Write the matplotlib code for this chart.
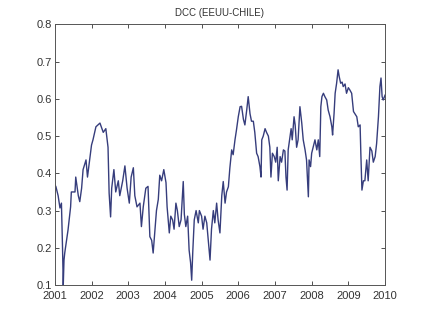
import matplotlib
matplotlib.use("Agg")
import matplotlib.pyplot as plt

title = "DCC (EEUU-CHILE)"
years = [
    2001.00, 2001.03, 2001.09, 2001.14, 2001.18, 2001.21, 2001.23, 2001.25, 2001.27, 2001.36,
    2001.43, 2001.45, 2001.55, 2001.57, 2001.64, 2001.68, 2001.73, 2001.77, 2001.85, 2001.89,
    2001.94, 2002.00, 2002.04, 2002.12, 2002.23, 2002.32, 2002.39, 2002.45, 2002.48, 2002.52,
    2002.55, 2002.61, 2002.66, 2002.73, 2002.77, 2002.85, 2002.91, 2002.97, 2003.03, 2003.08,
    2003.14, 2003.18, 2003.24, 2003.32, 2003.36, 2003.41, 2003.48, 2003.54, 2003.59, 2003.64,
    2003.68, 2003.73, 2003.77, 2003.82, 2003.86, 2003.91, 2003.97, 2004.03, 2004.06, 2004.12,
    2004.16, 2004.21, 2004.25, 2004.30, 2004.34, 2004.39, 2004.44, 2004.50, 2004.53, 2004.57,
    2004.62, 2004.66, 2004.70, 2004.73, 2004.76, 2004.80, 2004.85, 2004.91, 2004.94, 2005.00,
    2005.04, 2005.09, 2005.14, 2005.19, 2005.23, 2005.27, 2005.32, 2005.36, 2005.41, 2005.45,
    2005.50, 2005.55, 2005.59, 2005.64, 2005.68, 2005.73, 2005.77, 2005.82, 2005.86, 2005.91,
    2005.95, 2006.00, 2006.05, 2006.09, 2006.14, 2006.18, 2006.23, 2006.27, 2006.32, 2006.36,
    2006.41, 2006.45, 2006.50, 2006.54, 2006.59, 2006.62, 2006.64, 2006.68, 2006.73, 2006.77,
    2006.82, 2006.86, 2006.89, 2006.93, 2006.98, 2007.02, 2007.06, 2007.09, 2007.14, 2007.18,
    2007.23, 2007.27, 2007.30, 2007.33, 2007.36, 2007.41, 2007.44, 2007.47, 2007.52, 2007.55,
    2007.59, 2007.63, 2007.68, 2007.73, 2007.77, 2007.82, 2007.86, 2007.91, 2007.93, 2007.97,
    2008.00, 2008.04, 2008.09, 2008.14, 2008.18, 2008.22, 2008.25, 2008.28, 2008.32, 2008.36,
    2008.41, 2008.45, 2008.50, 2008.55, 2008.57, 2008.61, 2008.64, 2008.68, 2008.72, 2008.75,
    2008.79, 2008.83, 2008.86, 2008.91, 2008.95, 2009.00, 2009.04, 2009.09, 2009.14, 2009.18,
    2009.23, 2009.27, 2009.32, 2009.34, 2009.37, 2009.41, 2009.45, 2009.50, 2009.54, 2009.59,
    2009.64, 2009.68, 2009.73, 2009.77, 2009.82, 2009.86, 2009.89, 2009.92, 2009.95, 2010.00,
]
dcc = [
    0.37, 0.364, 0.34, 0.307, 0.32, 0.20, 0.10, 0.167, 0.186, 0.248,
    0.31, 0.35, 0.35, 0.39, 0.34, 0.324, 0.36, 0.41, 0.436, 0.39,
    0.43, 0.476, 0.49, 0.525, 0.535, 0.51, 0.52, 0.47, 0.347, 0.283,
    0.36, 0.41, 0.35, 0.38, 0.34, 0.38, 0.42, 0.36, 0.32, 0.39,
    0.415, 0.34, 0.31, 0.32, 0.257, 0.31, 0.36, 0.365, 0.23, 0.22,
    0.186, 0.25, 0.30, 0.33, 0.395, 0.38, 0.41, 0.375, 0.31, 0.24,
    0.285, 0.275, 0.25, 0.32, 0.30, 0.257, 0.275, 0.378, 0.29, 0.257,
    0.285, 0.194, 0.16, 0.113, 0.19, 0.275, 0.30, 0.267, 0.30, 0.285,
    0.25, 0.285, 0.267, 0.213, 0.167, 0.25, 0.30, 0.267, 0.32, 0.275,
    0.24, 0.34, 0.378, 0.32, 0.35, 0.364, 0.414, 0.463, 0.45, 0.49,
    0.516, 0.552, 0.579, 0.58, 0.545, 0.53, 0.57, 0.606, 0.56, 0.54,
    0.54, 0.51, 0.454, 0.445, 0.418, 0.39, 0.49, 0.50, 0.52, 0.51,
    0.50, 0.47, 0.39, 0.454, 0.445, 0.43, 0.47, 0.38, 0.445, 0.43,
    0.463, 0.46, 0.39, 0.355, 0.463, 0.50, 0.52, 0.49, 0.552, 0.53,
    0.47, 0.49, 0.579, 0.535, 0.49, 0.463, 0.436, 0.337, 0.436, 0.418,
    0.454, 0.47, 0.49, 0.463, 0.49, 0.445, 0.579, 0.606, 0.615, 0.606,
    0.597, 0.57, 0.552, 0.525, 0.503, 0.56, 0.615, 0.642, 0.678, 0.66,
    0.642, 0.645, 0.633, 0.64, 0.615, 0.63, 0.624, 0.615, 0.566, 0.56,
    0.552, 0.525, 0.53, 0.454, 0.355, 0.38, 0.38, 0.436, 0.38, 0.47,
    0.46, 0.43, 0.445, 0.48, 0.552, 0.633, 0.656, 0.606, 0.597, 0.61,
]
xticks = list(range(2001, 2011))
yticks = [0.1, 0.2, 0.3, 0.4, 0.5, 0.6, 0.7, 0.8]

plt.rcParams['font.family'] = ['Liberation Sans', 'DejaVu Sans']
fig = plt.figure(figsize=(4.25, 3.21), dpi=100)
ax = fig.add_axes([0.129, 0.112, 0.777, 0.812])
ax.plot(years, dcc, color='#363d7c', linewidth=1.0)
ax.set_xlim(2001, 2010)
ax.set_ylim(0.1, 0.8)
ax.set_xticks(xticks)
ax.set_xticklabels([str(t) for t in xticks])
ax.set_yticks(yticks)
ax.set_yticklabels([f"{t:.1f}" for t in yticks])
ax.tick_params(direction='in', top=True, right=True, labelsize=8,
               colors='#333333', length=3, width=0.6)
ax.tick_params(axis='x', pad=4)
ax.tick_params(axis='y', pad=2)
for s in ax.spines.values():
    s.set_color('#555555')
    s.set_linewidth(0.7)
ax.set_title(title, fontsize=7, color='#333333', pad=6)
fig.savefig("out.png", dpi=100)
